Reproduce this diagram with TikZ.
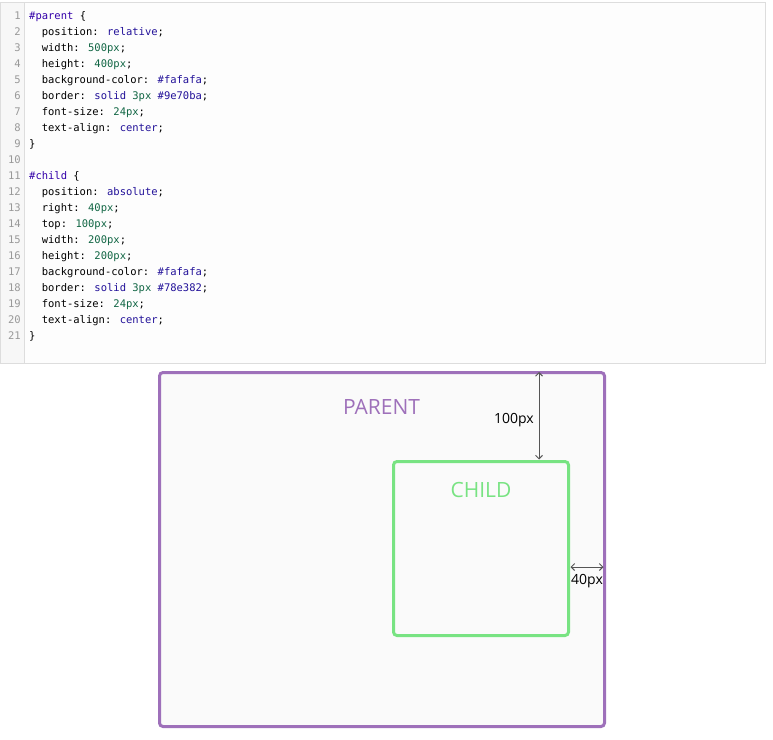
\documentclass[tikz,border=0pt]{standalone}
\usepackage{fontspec}
\setmainfont{Open Sans}
\newfontfamily\codefont{DejaVu Sans Mono}
\usetikzlibrary{arrows.meta}
\definecolor{panelborder}{HTML}{DDDDDD}
\definecolor{gutterbg}{HTML}{F7F7F7}
\definecolor{panelbg}{HTML}{FDFDFD}
\definecolor{lnumcol}{HTML}{999999}
\definecolor{selcol}{HTML}{3300AA}
\definecolor{atomcol}{HTML}{221199}
\definecolor{numcol}{HTML}{116644}
\definecolor{parentcol}{HTML}{9E70BA}
\definecolor{childcol}{HTML}{78E382}
\definecolor{boxbg}{HTML}{FAFAFA}
\definecolor{dimcol}{HTML}{555555}
\newcommand{\csel}[1]{\textcolor{selcol}{#1}}
\newcommand{\catom}[1]{\textcolor{atomcol}{#1}}
\newcommand{\cnum}[1]{\textcolor{numcol}{#1}}
\begin{document}
\begin{tikzpicture}[x=1pt,y=-1pt,
  codeline/.style={anchor=base west,inner sep=0pt,font=\codefont\fontsize{10.5}{12}\selectfont},
  lnum/.style={anchor=base east,inner sep=0pt,text=lnumcol,font=\codefont\fontsize{10.5}{12}\selectfont},
  parentbox/.style={draw=parentcol,line width=3pt,fill=boxbg,rounded corners=3.5pt,minimum width=445pt,minimum height=354pt,inner sep=0pt},
  childbox/.style={draw=childcol,line width=3pt,fill=boxbg,rounded corners=3.5pt,minimum width=175pt,minimum height=174pt,inner sep=0pt},
  boxlabel/.style={anchor=base,inner sep=0pt,font=\fontsize{21}{24}\selectfont},
  dimlabel/.style={inner sep=0pt,font=\fontsize{14}{16}\selectfont,text=black},
  dimarrow/.style={draw=dimcol,line width=1pt,{Straight Barb[length=3.5pt,width=7pt]}-{Straight Barb[length=3.5pt,width=7pt]}}
]
\useasboundingbox (0,0) rectangle (773,739);
\fill[white] (0,0) rectangle (773,739);
% code panel
\fill[panelbg] (0,2) rectangle (765,363);
\fill[gutterbg] (0,2) rectangle (24.5,363);
\draw[panelborder,line width=1pt] (24.5,2) -- (24.5,363);
\draw[panelborder,line width=1pt] (0,2) rectangle (765,363);
% line numbers
\foreach \i in {1,...,21}{
  \node[lnum] (n\i) at (21,{19.5+16*(\i-1)}) {\i};
}
% code lines
\node[codeline] (l1) at (29,19.5) {\csel{\#parent} \{};
\node[codeline] (l2) at (41.6,35.5) {position: \catom{relative};};
\node[codeline] (l3) at (41.6,51.5) {width: \cnum{500px};};
\node[codeline] (l4) at (41.6,67.5) {height: \cnum{400px};};
\node[codeline] (l5) at (41.6,83.5) {background-color: \catom{\#fafafa};};
\node[codeline] (l6) at (41.6,99.5) {border: \catom{solid} \cnum{3px} \catom{\#9e70ba};};
\node[codeline] (l7) at (41.6,115.5) {font-size: \cnum{24px};};
\node[codeline] (l8) at (41.6,131.5) {text-align: \catom{center};};
\node[codeline] (l9) at (29,147.5) {\}};
\node[codeline] (l11) at (29,179.5) {\csel{\#child} \{};
\node[codeline] (l12) at (41.6,195.5) {position: \catom{absolute};};
\node[codeline] (l13) at (41.6,211.5) {right: \cnum{40px};};
\node[codeline] (l14) at (41.6,227.5) {top: \cnum{100px};};
\node[codeline] (l15) at (41.6,243.5) {width: \cnum{200px};};
\node[codeline] (l16) at (41.6,259.5) {height: \cnum{200px};};
\node[codeline] (l17) at (41.6,275.5) {background-color: \catom{\#fafafa};};
\node[codeline] (l18) at (41.6,291.5) {border: \catom{solid} \cnum{3px} \catom{\#78e382};};
\node[codeline] (l19) at (41.6,307.5) {font-size: \cnum{24px};};
\node[codeline] (l20) at (41.6,323.5) {text-align: \catom{center};};
\node[codeline] (l21) at (29,339.5) {\}};
% boxes
\node[parentbox] (parent) at (382,549.5) {};
\node[childbox] (child) at (481,548.5) {};
\node[boxlabel,text=parentcol] (ptext) at (381.5,414) {PARENT};
\node[boxlabel,text=childcol] (ctext) at (481,497) {CHILD};
% dimensions
\coordinate (topA) at (539,372);
\coordinate (topB) at (539,459.5);
\draw[dimarrow] (topA) -- (topB);
\node[dimlabel,anchor=base east] (l100) at (534,423) {100px};
\coordinate (rightA) at (570.5,567);
\coordinate (rightB) at (603.5,567);
\draw[dimarrow] (rightA) -- (rightB);
\node[dimlabel,anchor=base] (l40) at (587,584) {40px};
\end{tikzpicture}
\end{document}
